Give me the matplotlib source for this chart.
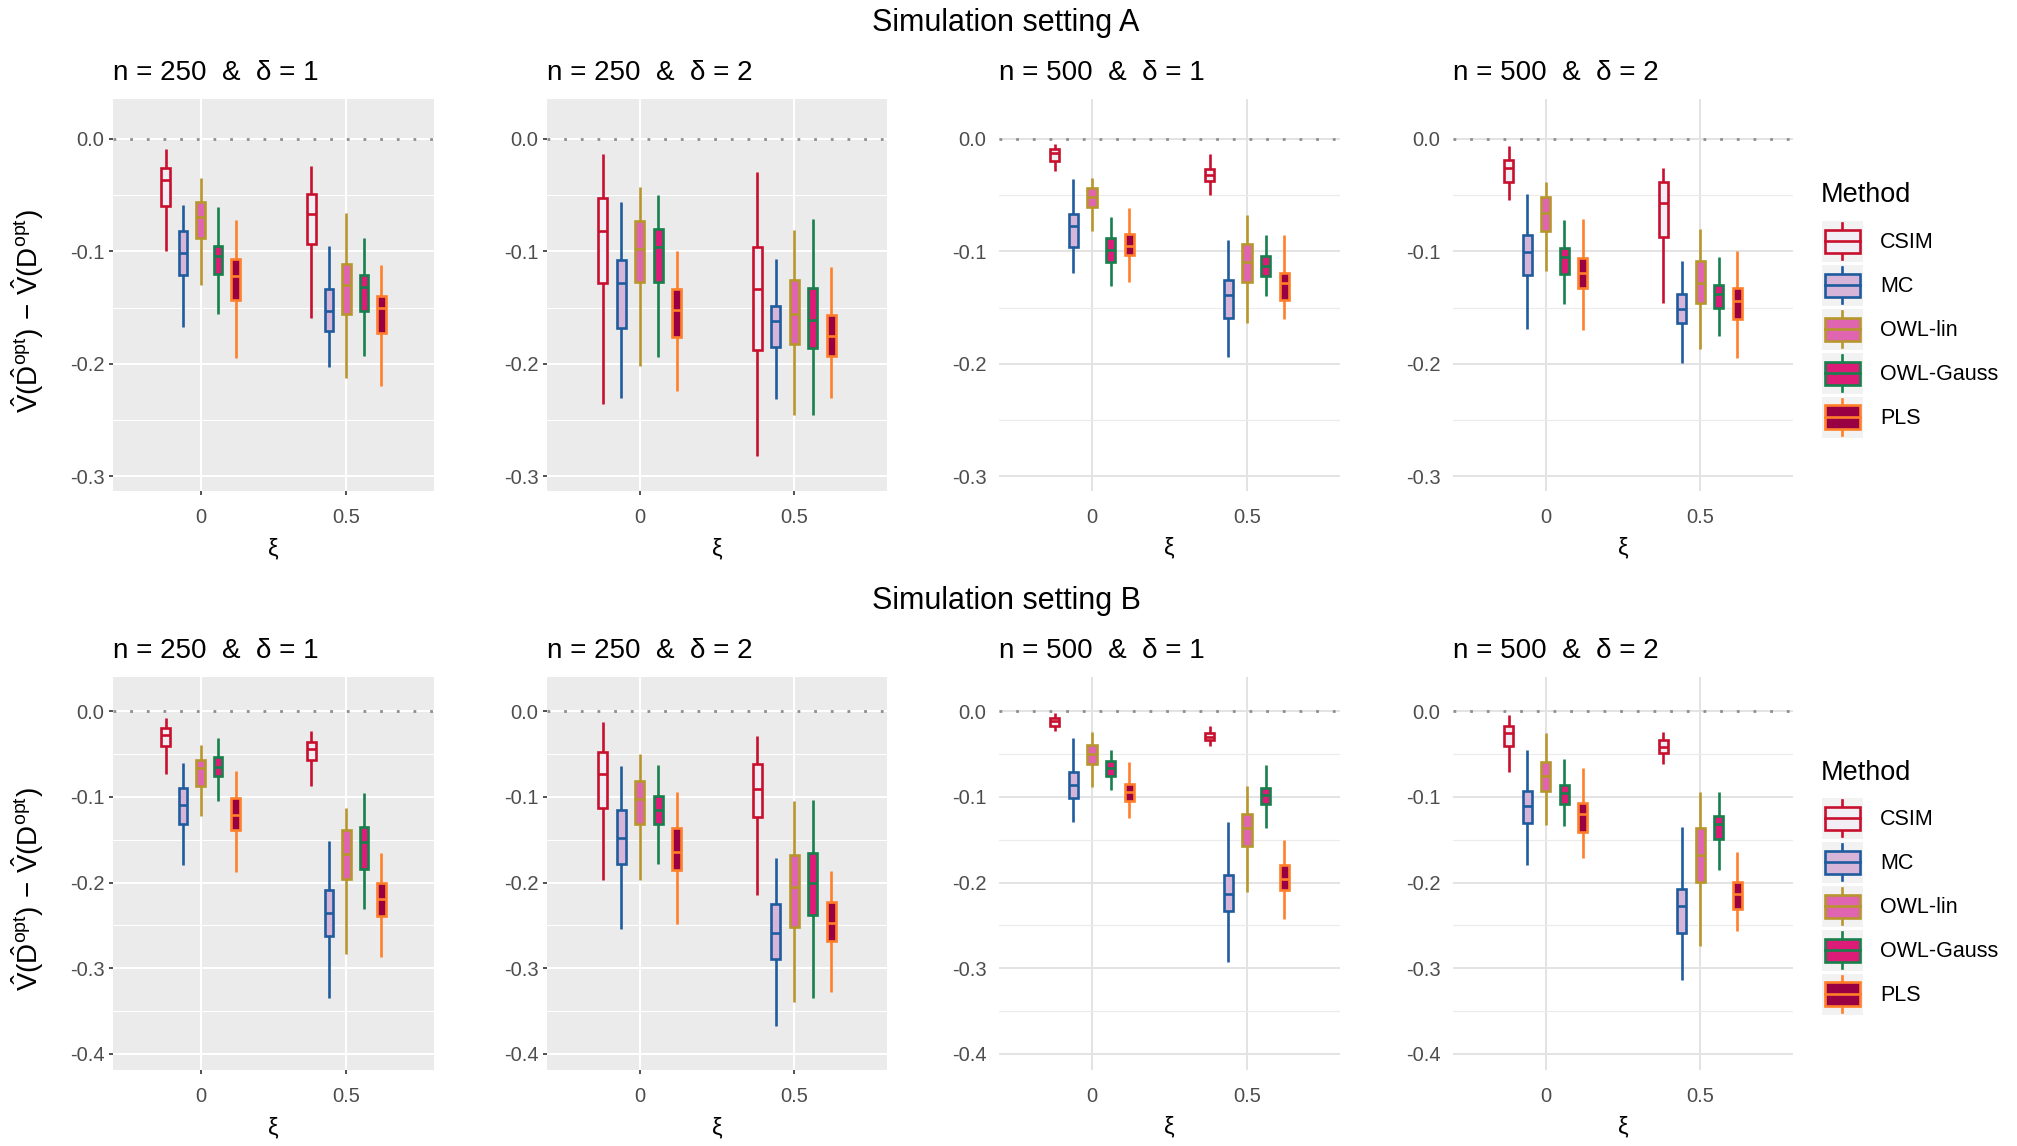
import matplotlib
matplotlib.use('Agg')
import matplotlib.pyplot as plt
from matplotlib.legend_handler import HandlerBase
from matplotlib.patches import Rectangle, Patch
from matplotlib.lines import Line2D
from matplotlib.ticker import MultipleLocator

plt.rcParams['font.family'] = ['Liberation Sans', 'DejaVu Sans']
plt.rcParams['mathtext.fontset'] = 'custom'
plt.rcParams['mathtext.rm'] = 'Liberation Sans'
plt.rcParams['mathtext.it'] = 'Liberation Sans:italic'

# ---- data: (lower whisker, Q1, median, Q3, upper whisker) per method ----
methods = ['CSIM', 'MC', 'OWL-lin', 'OWL-Gauss', 'PLS']
xi_labels = ['0', '0.5']
panel_titles = ['n = 250  &  \u03b4 = 1', 'n = 250  &  \u03b4 = 2',
                'n = 500  &  \u03b4 = 1', 'n = 500  &  \u03b4 = 2']
setting_titles = ['Simulation setting A', 'Simulation setting B']

# setting A
A_250_1_xi0 = [(-0.100, -0.060, -0.037, -0.026, -0.009), (-0.167, -0.121, -0.102, -0.082, -0.059),
               (-0.130, -0.088, -0.070, -0.056, -0.035), (-0.156, -0.120, -0.104, -0.095, -0.061),
               (-0.195, -0.143, -0.122, -0.107, -0.072)]
A_250_1_xi5 = [(-0.159, -0.094, -0.067, -0.049, -0.024), (-0.203, -0.171, -0.153, -0.134, -0.095),
               (-0.213, -0.156, -0.130, -0.111, -0.066), (-0.193, -0.153, -0.132, -0.121, -0.088),
               (-0.220, -0.173, -0.150, -0.140, -0.112)]
A_250_2_xi0 = [(-0.236, -0.128, -0.082, -0.053, -0.014), (-0.230, -0.168, -0.128, -0.108, -0.056),
               (-0.202, -0.127, -0.098, -0.073, -0.043), (-0.194, -0.127, -0.096, -0.080, -0.050),
               (-0.224, -0.176, -0.152, -0.134, -0.100)]
A_250_2_xi5 = [(-0.282, -0.188, -0.134, -0.096, -0.030), (-0.231, -0.185, -0.162, -0.149, -0.107),
               (-0.245, -0.182, -0.156, -0.126, -0.081), (-0.245, -0.186, -0.161, -0.133, -0.071),
               (-0.230, -0.193, -0.175, -0.157, -0.114)]
A_500_1_xi0 = [(-0.029, -0.020, -0.013, -0.009, -0.005), (-0.119, -0.096, -0.078, -0.067, -0.036),
               (-0.082, -0.061, -0.052, -0.044, -0.035), (-0.131, -0.110, -0.099, -0.088, -0.070),
               (-0.127, -0.103, -0.095, -0.085, -0.062)]
A_500_1_xi5 = [(-0.050, -0.038, -0.032, -0.027, -0.014), (-0.194, -0.159, -0.139, -0.126, -0.090),
               (-0.164, -0.127, -0.110, -0.094, -0.068), (-0.140, -0.122, -0.113, -0.104, -0.086),
               (-0.160, -0.143, -0.128, -0.119, -0.086)]
A_500_2_xi0 = [(-0.055, -0.039, -0.026, -0.019, -0.007), (-0.169, -0.121, -0.101, -0.086, -0.049),
               (-0.118, -0.082, -0.066, -0.052, -0.039), (-0.147, -0.120, -0.105, -0.097, -0.072),
               (-0.170, -0.133, -0.119, -0.106, -0.071)]
A_500_2_xi5 = [(-0.146, -0.087, -0.057, -0.039, -0.026), (-0.199, -0.164, -0.151, -0.138, -0.109),
               (-0.187, -0.146, -0.128, -0.109, -0.080), (-0.175, -0.150, -0.138, -0.130, -0.105),
               (-0.195, -0.160, -0.144, -0.133, -0.100)]

# setting B
B_250_1_xi0 = [(-0.074, -0.041, -0.028, -0.020, -0.008), (-0.180, -0.132, -0.110, -0.090, -0.061),
               (-0.122, -0.088, -0.067, -0.057, -0.040), (-0.105, -0.076, -0.065, -0.054, -0.031),
               (-0.188, -0.139, -0.121, -0.102, -0.070)]
B_250_1_xi5 = [(-0.087, -0.057, -0.044, -0.036, -0.023), (-0.335, -0.262, -0.235, -0.209, -0.152),
               (-0.283, -0.196, -0.167, -0.139, -0.113), (-0.231, -0.184, -0.153, -0.135, -0.096),
               (-0.287, -0.239, -0.219, -0.201, -0.166)]
B_250_2_xi0 = [(-0.197, -0.113, -0.074, -0.048, -0.013), (-0.254, -0.178, -0.148, -0.116, -0.064),
               (-0.197, -0.132, -0.103, -0.082, -0.050), (-0.178, -0.132, -0.116, -0.099, -0.063),
               (-0.248, -0.185, -0.164, -0.137, -0.095)]
B_250_2_xi5 = [(-0.215, -0.124, -0.091, -0.062, -0.029), (-0.367, -0.289, -0.259, -0.225, -0.172),
               (-0.339, -0.252, -0.205, -0.168, -0.105), (-0.335, -0.238, -0.201, -0.166, -0.104),
               (-0.328, -0.268, -0.247, -0.223, -0.187)]
B_500_1_xi0 = [(-0.023, -0.017, -0.012, -0.008, -0.002), (-0.130, -0.101, -0.086, -0.071, -0.032),
               (-0.089, -0.062, -0.050, -0.040, -0.025), (-0.092, -0.076, -0.066, -0.058, -0.045),
               (-0.125, -0.105, -0.094, -0.085, -0.060)]
B_500_1_xi5 = [(-0.041, -0.034, -0.030, -0.026, -0.018), (-0.293, -0.233, -0.213, -0.191, -0.130),
               (-0.211, -0.158, -0.137, -0.120, -0.087), (-0.137, -0.109, -0.098, -0.090, -0.063),
               (-0.242, -0.209, -0.196, -0.180, -0.150)]
B_500_2_xi0 = [(-0.071, -0.041, -0.026, -0.018, -0.005), (-0.180, -0.131, -0.111, -0.093, -0.045),
               (-0.133, -0.093, -0.076, -0.060, -0.026), (-0.134, -0.109, -0.096, -0.086, -0.056),
               (-0.172, -0.141, -0.120, -0.107, -0.067)]
B_500_2_xi5 = [(-0.062, -0.049, -0.042, -0.034, -0.024), (-0.314, -0.259, -0.227, -0.207, -0.135),
               (-0.274, -0.199, -0.168, -0.136, -0.095), (-0.186, -0.149, -0.132, -0.122, -0.094),
               (-0.257, -0.231, -0.213, -0.199, -0.164)]

row_panels = [
    [(A_250_1_xi0, A_250_1_xi5), (A_250_2_xi0, A_250_2_xi5),
     (A_500_1_xi0, A_500_1_xi5), (A_500_2_xi0, A_500_2_xi5)],
    [(B_250_1_xi0, B_250_1_xi5), (B_250_2_xi0, B_250_2_xi5),
     (B_500_1_xi0, B_500_1_xi5), (B_500_2_xi0, B_500_2_xi5)],
]
row_yticks = [[0.0, -0.1, -0.2, -0.3], [0.0, -0.1, -0.2, -0.3, -0.4]]
row_ylim = [(-0.3129, 0.0351), (-0.4187, 0.0397)]

edge_colors = ['#C8102E', '#1F5C9E', '#B8962E', '#17804C', '#FF7F2A']
fill_colors = ['#F1EEF6', '#D7B5D8', '#DF65B0', '#DD1C77', '#980043']

# ---- layout (pixels of a 2017 x 1146 canvas) ----
W, H = 2017, 1146
col_x = [(113, 434), (547, 887), (999, 1340), (1453, 1793)]
row_y = [(99, 491), (677, 1070)]
gray_cols = [True, True, False, False]
dodge = 0.12
box_w = 0.06
lw = 1.9

fig = plt.figure(figsize=(W / 100, H / 100), dpi=100)


def draw_panel(ax, stats_xi0, stats_xi5, gray, yticks, ylim):
    for j, m in enumerate(methods):
        stats = []
        for s in (stats_xi0[j], stats_xi5[j]):
            stats.append(dict(whislo=s[0], q1=s[1], med=s[2], q3=s[3], whishi=s[4], fliers=[]))
        pos = [i + 1 + (j - 2) * dodge for i in range(2)]
        ax.bxp(stats, positions=pos, widths=box_w, showcaps=False, showfliers=False,
               patch_artist=True, manage_ticks=False,
               boxprops=dict(facecolor=fill_colors[j], edgecolor=edge_colors[j], linewidth=lw),
               whiskerprops=dict(color=edge_colors[j], linewidth=lw, solid_capstyle='butt'),
               medianprops=dict(color=edge_colors[j], linewidth=lw))

    ax.axhline(0, color='#8E8E8E', linestyle=(0, (1, 5)), linewidth=2.0, zorder=1.5)

    ax.set_xlim(0.4, 2.6)
    ax.set_ylim(*ylim)
    ax.set_xticks([1, 2])
    ax.set_xticklabels(xi_labels)
    ax.set_yticks(yticks)
    ax.set_yticklabels([f'{v:.1f}' for v in yticks])
    ax.yaxis.set_minor_locator(MultipleLocator(0.05))
    ax.set_axisbelow(True)
    for sp in ax.spines.values():
        sp.set_visible(False)

    if gray:
        ax.set_facecolor('#EBEBEB')
        ax.grid(which='major', color='white', linewidth=1.5)
        ax.grid(which='minor', axis='y', color='white', linewidth=0.75)
        ax.tick_params(which='major', length=3.2, width=1.2, color='#333333',
                       labelcolor='#4D4D4D', labelsize=14.5)
        ax.tick_params(axis='y', which='major', pad=3)
        ax.tick_params(axis='x', which='major', pad=9)
    else:
        ax.set_facecolor('white')
        ax.grid(which='major', color='#E3E3E3', linewidth=1.4)
        ax.grid(which='minor', axis='y', color='#EBEBEB', linewidth=0.8)
        ax.tick_params(which='major', length=0, labelcolor='#4D4D4D', labelsize=14.5)
        ax.tick_params(axis='y', which='major', pad=9)
        ax.tick_params(axis='x', which='major', pad=12)
    ax.tick_params(which='minor', length=0)
    ax.set_xlabel('\u03be', fontsize=17, labelpad=8)


for r in range(2):
    t, b = row_y[r]
    for c in range(4):
        l, rr = col_x[c]
        ax = fig.add_axes([l / W, 1 - b / H, (rr - l) / W, (b - t) / H])
        s0, s5 = row_panels[r][c]
        draw_panel(ax, s0, s5, gray_cols[c], row_yticks[r], row_ylim[r])
        ax.set_title(panel_titles[c], loc='left', fontsize=20, pad=14)
    fig.text(28 / W, 1 - ((t + b) / 2 + 16) / H,
             r'$\hat{\mathrm{V}}(\hat{\mathrm{D}}^{\mathrm{opt}})\,-\,\hat{\mathrm{V}}(\mathrm{D}^{\mathrm{opt}})$',
             rotation=90, ha='center', va='center', fontsize=20)
    fig.text(1006 / W, 1 - (23 + 578 * r) / H, setting_titles[r],
             ha='center', va='center', fontsize=22)


class BoxKeyHandler(HandlerBase):
    def create_artists(self, legend, orig_handle, xdescent, ydescent, width, height, fontsize, trans):
        x0, y0 = -xdescent, -ydescent
        cx = x0 + width / 2
        face = orig_handle.get_facecolor()
        edge = orig_handle.get_edgecolor()
        bg = Rectangle((x0, y0), width, height, facecolor='#F2F2F2', edgecolor='none', transform=trans)
        wh = Line2D([cx, cx], [y0 + 0.06 * height, y0 + 0.94 * height], color=edge,
                    linewidth=lw, transform=trans)
        bw, bh = 0.84 * width, 0.58 * height
        box = Rectangle((cx - bw / 2, y0 + (height - bh) / 2), bw, bh, facecolor=face,
                        edgecolor=edge, linewidth=lw, transform=trans)
        med = Line2D([cx - bw / 2, cx + bw / 2], [y0 + height / 2] * 2, color=edge,
                     linewidth=lw, transform=trans)
        return [bg, wh, box, med]


handles = [Patch(facecolor=f, edgecolor=e) for f, e in zip(fill_colors, edge_colors)]
for r, (title_y, keys_top) in enumerate([(195, 221), (773, 798)]):
    fig.text(1821 / W, 1 - title_y / H, 'Method', ha='left', va='center', fontsize=19.5)
    fig.legend(handles, methods, loc='upper left',
               bbox_to_anchor=(1822 / W, 1 - keys_top / H), frameon=False,
               fontsize=15.5, borderpad=0, borderaxespad=0,
               handlelength=1.9, handleheight=2.55, labelspacing=0.14,
               handletextpad=0.8, handler_map={Patch: BoxKeyHandler()})

fig.savefig('out.png', dpi=100)
